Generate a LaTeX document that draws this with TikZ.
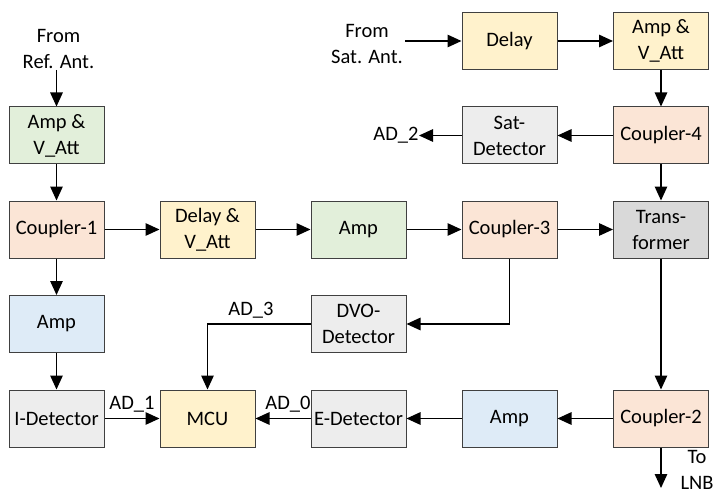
\documentclass[tikz,border=0pt]{standalone}
\usepackage{fontspec}
\setmainfont{Carlito}
\usetikzlibrary{arrows.meta}
\definecolor{cgreen}{HTML}{E2EFDA}
\definecolor{ccoral}{HTML}{FBE5D6}
\definecolor{cyellow}{HTML}{FFF2CC}
\definecolor{cblue}{HTML}{DEEBF7}
\definecolor{cgray}{HTML}{EDEDED}
\definecolor{cdgray}{HTML}{D9D9D9}
\definecolor{cborder}{HTML}{404040}
\tikzset{
  blk/.style={draw=cborder, line width=1pt, minimum width=95pt, minimum height=57pt, align=center, inner sep=1pt, font=\fontsize{20.5}{26}\selectfont},
  lbl/.style={align=center, inner sep=0pt, font=\fontsize{20.5}{26}\selectfont},
  conn/.style={line width=1.3pt, draw=black, -{Triangle[length=14pt,width=12.5pt]}},
}
\begin{document}
\begin{tikzpicture}[x=1pt,y=-1pt]
\useasboundingbox (0,0) rectangle (716,495);
\fill[white] (0,0) rectangle (716,495);
% column centres: 56.5, 207.5, 358.5, 509.5, 661
% row centres: 41, 135.5, 229.5, 324, 418.5
\node[blk, fill=cyellow] (delay) at (509.5,41) {Delay};
\node[blk, fill=cyellow] (ampv2) at (661,41) {Amp \&\\V\_Att};
\node[blk, fill=cgreen] (ampv1) at (56.5,135.5) {Amp \&\\V\_Att};
\node[blk, fill=cgray] (satdet) at (509.5,135.5) {Sat-\\Detector};
\node[blk, fill=ccoral] (c4) at (661,135.5) {Coupler-4};
\node[blk, fill=ccoral] (c1) at (56.5,229.5) {Coupler-1};
\node[blk, fill=cyellow] (delayv) at (207.5,229.5) {Delay \&\\V\_Att};
\node[blk, fill=cgreen] (amp3) at (358.5,229.5) {Amp};
\node[blk, fill=ccoral] (c3) at (509.5,229.5) {Coupler-3};
\node[blk, fill=cdgray] (trans) at (661,229.5) {Trans-\\former};
\node[blk, fill=cblue] (amp4) at (56.5,324) {Amp};
\node[blk, fill=cgray] (dvo) at (358.5,324) {DVO-\\Detector};
\node[blk, fill=cgray] (idet) at (56.5,418.5) {I-Detector};
\node[blk, fill=cyellow] (mcu) at (207.5,418.5) {MCU};
\node[blk, fill=cgray] (edet) at (358.5,418.5) {E-Detector};
\node[blk, fill=cblue] (amp5) at (509.5,418.5) {Amp};
\node[blk, fill=ccoral] (c2) at (661,418.5) {Coupler-2};

\node[lbl] (fromref) at (58.5,49) {From\\Ref. Ant.};
\node[lbl] (fromsat) at (367,44) {From\\Sat. Ant.};
\coordinate (refin) at (56.5,70);
\coordinate (satin) at (405,41);
\node[lbl] (ad2) at (396,135.5) {AD\_2};
\coordinate (ad2end) at (419,135.5);
\node[lbl] (ad3) at (251,310) {AD\_3};
\node[lbl] (ad1) at (132,404) {AD\_1};
\node[lbl] (ad0) at (288,404) {AD\_0};
\node[lbl] (tolnb) at (697,470) {To\\LNB};
\coordinate (lnbend) at (661,488);

\draw[conn] (refin) -- (ampv1);
\draw[conn] (ampv1) -- (c1);
\draw[conn] (c1) -- (delayv);
\draw[conn] (delayv) -- (amp3);
\draw[conn] (amp3) -- (c3);
\draw[conn] (c3) -- (trans);
\draw[conn] (c1) -- (amp4);
\draw[conn] (amp4) -- (idet);
\draw[conn] (idet) -- (mcu);
\draw[conn] (satin) -- (delay);
\draw[conn] (delay) -- (ampv2);
\draw[conn] (ampv2) -- (c4);
\draw[conn] (c4) -- (satdet);
\draw[conn] (satdet) -- (ad2end);
\draw[conn] (c4) -- (trans);
\draw[conn] (trans) -- (c2);
\draw[conn] (c2) -- (amp5);
\draw[conn] (amp5) -- (edet);
\draw[conn] (edet) -- (mcu);
\draw[conn] (c3.south) |- (dvo.east);
\draw[conn] (dvo.west) -| (mcu.north);
\draw[conn] (c2) -- (lnbend);
\end{tikzpicture}
\end{document}
